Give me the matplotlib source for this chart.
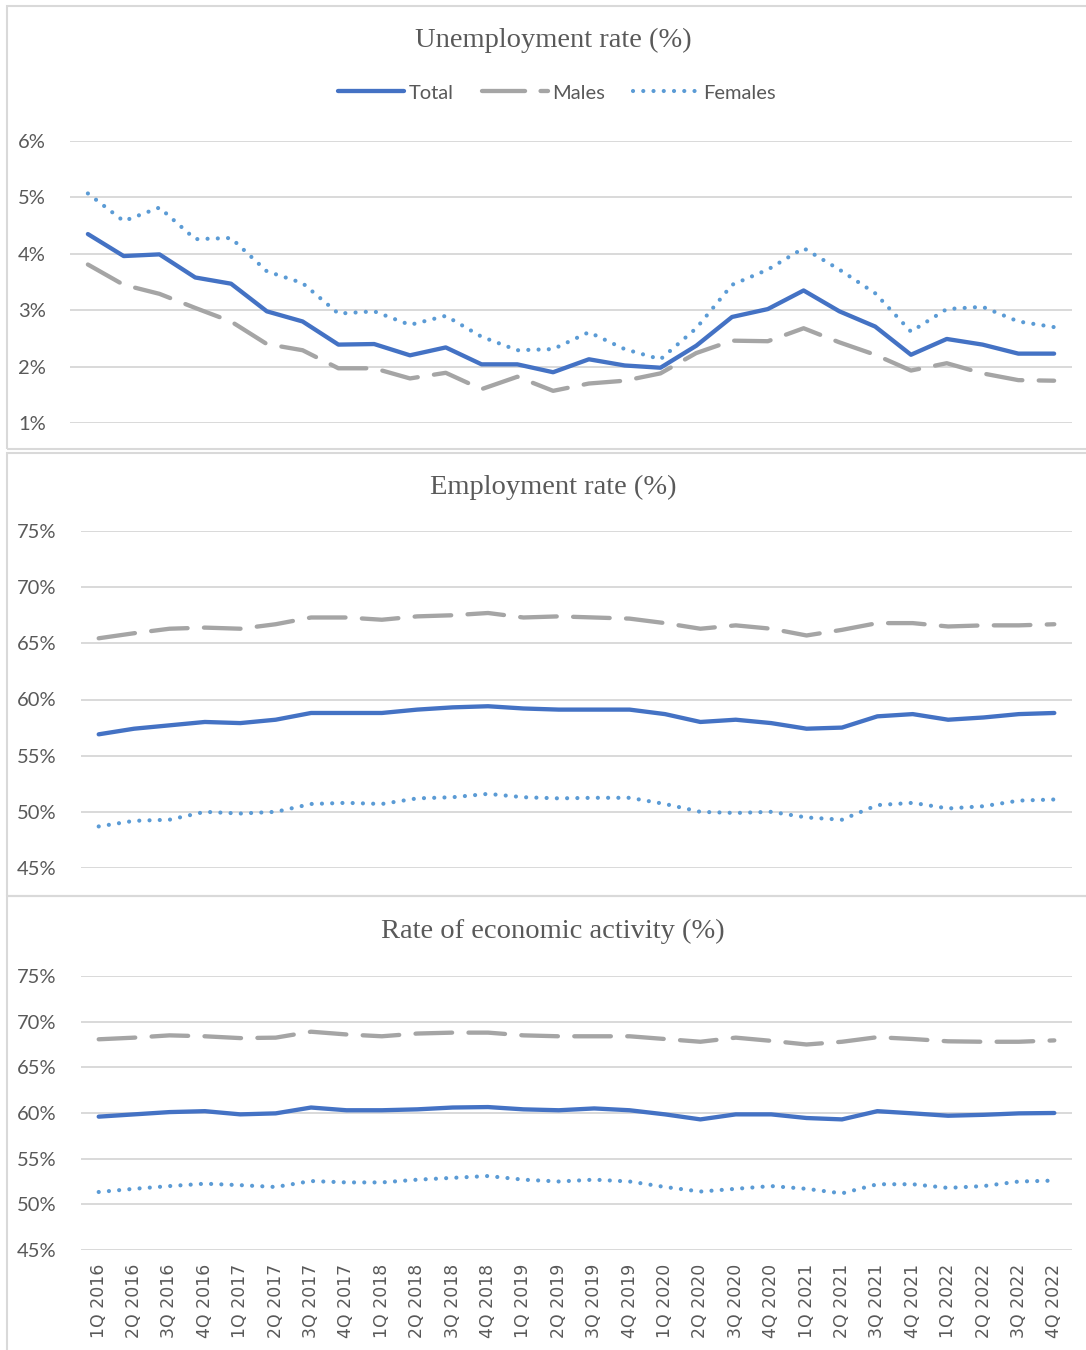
import matplotlib
matplotlib.use("Agg")
import matplotlib.pyplot as plt
from matplotlib.patches import Rectangle
from matplotlib.lines import Line2D
from matplotlib.ticker import FuncFormatter

quarters = [f"{q}Q {y}" for y in range(2016, 2023) for q in range(1, 5)]

unemp_total = [4.35, 3.96, 3.99, 3.58, 3.47, 2.98, 2.80, 2.39, 2.40, 2.20, 2.34, 2.04, 2.04, 1.90,
               2.13, 2.02, 1.98, 2.37, 2.88, 3.02, 3.35, 2.98, 2.71, 2.21, 2.49, 2.39, 2.23, 2.23]
unemp_males = [3.81, 3.45, 3.29, 3.04, 2.80, 2.40, 2.29, 1.97, 1.97, 1.79, 1.89, 1.60, 1.82, 1.57,
               1.70, 1.75, 1.88, 2.24, 2.46, 2.45, 2.68, 2.43, 2.21, 1.93, 2.06, 1.88, 1.76, 1.75]
unemp_females = [5.07, 4.58, 4.82, 4.26, 4.28, 3.69, 3.48, 2.94, 2.98, 2.74, 2.90, 2.53, 2.29, 2.31,
                 2.61, 2.31, 2.13, 2.68, 3.45, 3.72, 4.10, 3.72, 3.30, 2.62, 3.02, 3.06, 2.80, 2.70]

emp_total = [56.9, 57.4, 57.7, 58.0, 57.9, 58.2, 58.8, 58.8, 58.8, 59.1, 59.3, 59.4, 59.2, 59.1,
             59.1, 59.1, 58.7, 58.0, 58.2, 57.9, 57.4, 57.5, 58.5, 58.7, 58.2, 58.4, 58.7, 58.8]
emp_males = [65.45, 65.9, 66.3, 66.4, 66.3, 66.7, 67.3, 67.3, 67.1, 67.4, 67.5, 67.7, 67.3, 67.4,
             67.3, 67.2, 66.8, 66.3, 66.6, 66.3, 65.7, 66.2, 66.8, 66.8, 66.5, 66.6, 66.6, 66.7]
emp_females = [48.7, 49.2, 49.3, 50.0, 49.85, 50.0, 50.7, 50.8, 50.7, 51.2, 51.3, 51.6, 51.3, 51.2,
               51.25, 51.25, 50.7, 50.0, 49.9, 50.0, 49.5, 49.3, 50.6, 50.8, 50.3, 50.5, 51.0, 51.1]

act_total = [59.6, 59.85, 60.1, 60.2, 59.85, 59.96, 60.6, 60.3, 60.3, 60.4, 60.6, 60.65, 60.4, 60.3,
             60.5, 60.3, 59.85, 59.3, 59.85, 59.85, 59.45, 59.3, 60.2, 59.96, 59.7, 59.8, 59.96, 60.0]
act_males = [68.07, 68.25, 68.5, 68.4, 68.2, 68.25, 68.9, 68.6, 68.4, 68.7, 68.8, 68.8, 68.5, 68.4,
             68.4, 68.4, 68.1, 67.8, 68.25, 67.9, 67.5, 67.8, 68.3, 68.1, 67.85, 67.8, 67.8, 67.95]
act_females = [51.35, 51.7, 52.0, 52.26, 52.1, 51.9, 52.55, 52.4, 52.4, 52.7, 52.9, 53.1, 52.7, 52.5,
               52.7, 52.5, 51.9, 51.4, 51.7, 52.0, 51.7, 51.2, 52.2, 52.2, 51.8, 52.0, 52.5, 52.6]

series_names = ["Total", "Males", "Females"]
titles = ["Unemployment rate (%)", "Employment rate (%)", "Rate of economic activity (%)"]

W, H = 1086, 1350
fig = plt.figure(figsize=(W / 100, H / 100), dpi=100)
fig.patch.set_facecolor("white")

C_TOTAL = "#4472C4"
C_MALES = "#A5A5A5"
C_FEM = "#5B9BD5"
GRID = "#D9D9D9"
TXT = "#595959"
TICK_FONT = "Lato"


def fx(px):
    return px / W


def fy(py):
    return 1 - py / H


def panel_box(top, bottom):
    fig.add_artist(Rectangle((fx(7), fy(bottom)), fx(1100 - 7), fy(top) - fy(bottom),
                             transform=fig.transFigure, fill=False,
                             edgecolor="#D9D9D9", linewidth=1.5, zorder=0))


def add_axes(left, right, top, bottom):
    return fig.add_axes([fx(left), fy(bottom), fx(right - left), fy(top) - fy(bottom)])


def draw(ax, total, males, females, ylim, yticks, label_px):
    x = list(range(len(quarters)))
    ax.plot(x, total, color=C_TOTAL, lw=3.1, solid_capstyle="round", solid_joinstyle="round", zorder=3)
    ax.plot(x, males, color=C_MALES, lw=3.1, dashes=(8.5, 3.8), dash_capstyle="round",
            solid_joinstyle="round", zorder=3)
    ax.plot(x, females, color=C_FEM, lw=3.0, dashes=(0.01, 2.45), dash_capstyle="round", zorder=3)
    ax.set_xlim(-0.5, len(quarters) - 0.5)
    ax.set_ylim(*ylim)
    ax.set_yticks(yticks)
    ax.yaxis.set_major_formatter(FuncFormatter(lambda v, p: f"{v:.0f}%"))
    ax.grid(axis="y", color=GRID, lw=1.4)
    ax.set_axisbelow(True)
    for s in ax.spines.values():
        s.set_visible(False)
    ax.tick_params(axis="both", length=0, colors=TXT)
    ax.tick_params(axis="y", labelsize=14.5)
    # y labels left-aligned at a fixed pixel column
    left_px = ax.get_position().x0 * W
    for lab in ax.get_yticklabels():
        lab.set_fontfamily(TICK_FONT)
        lab.set_horizontalalignment("left")
        lab.set_x((label_px - left_px) / (ax.get_position().width * W))
    ax.set_facecolor("none")


# Panel frames
panel_box(6, 449)
panel_box(453, 896)
panel_box(896, 1360)

# Unemployment
ax1 = add_axes(70, 1072, 141, 423)
draw(ax1, unemp_total, unemp_males, unemp_females, (1, 6), [1, 2, 3, 4, 5, 6], 23)
ax1.set_xticks([])
fig.text(fx(553), fy(40), titles[0], ha="center", va="center", fontsize=20.5,
         family="Liberation Serif", color=TXT)

# Legend
handles = [
    Line2D([], [], color=C_TOTAL, lw=3.1, solid_capstyle="round"),
    Line2D([], [], color=C_MALES, lw=3.1, dashes=(10, 3.6), dash_capstyle="round"),
    Line2D([], [], color=C_FEM, lw=3.0, dashes=(0.01, 2.45), dash_capstyle="round"),
]
leg = fig.legend(handles, series_names, loc="center", bbox_to_anchor=(fx(557), fy(93)),
                 ncol=3, frameon=False, handlelength=3.3, handletextpad=0.2,
                 columnspacing=1.4, prop={"family": TICK_FONT, "size": 14.5})
for t in leg.get_texts():
    t.set_color(TXT)

# Employment
ax2 = add_axes(81, 1072, 531, 868)
draw(ax2, emp_total, emp_males, emp_females, (45, 75), [45, 50, 55, 60, 65, 70, 75], 22)
ax2.set_xticks([])
fig.text(fx(553), fy(487), titles[1], ha="center", va="center", fontsize=20.5,
         family="Liberation Serif", color=TXT)

# Economic activity
ax3 = add_axes(81, 1072, 976, 1250)
draw(ax3, act_total, act_males, act_females, (45, 75), [45, 50, 55, 60, 65, 70, 75], 22)
ax3.set_xticks(range(len(quarters)))
ax3.set_xticklabels(quarters, rotation=90, fontsize=12.5, family="DejaVu Sans", color=TXT)
ax3.tick_params(axis="x", pad=10)
fig.text(fx(553), fy(931), titles[2], ha="center", va="center", fontsize=20.5,
         family="Liberation Serif", color=TXT)

fig.savefig("out.png", dpi=100, facecolor="white")
